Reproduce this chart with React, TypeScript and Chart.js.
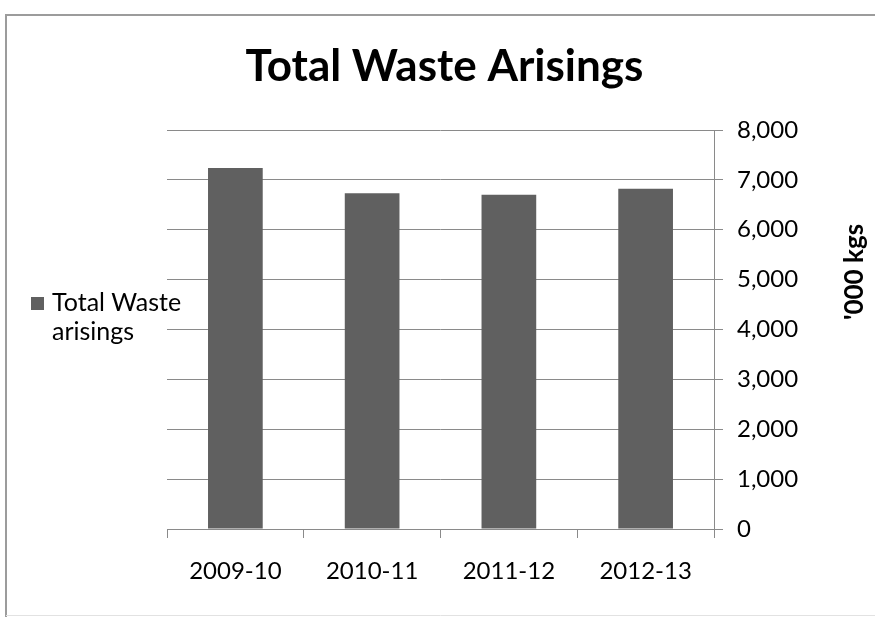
import React, { useEffect, useRef } from "react";
import { Chart, registerables } from "chart.js";

Chart.register(...registerables);

const TITLE = "Total Waste Arisings";
const Y_TITLE = "'000 kgs";
const CATEGORIES = ["2009-10", "2010-11", "2011-12", "2012-13"];
const SERIES_LABEL = "Total Waste arisings";
const SERIES_VALUES = [7240, 6730, 6700, 6820];
const Y_MIN = 0;
const Y_MAX = 8000;
const Y_STEP = 1000;

const FONT = "Lato, 'Liberation Sans', sans-serif";
const BAR_COLOR = "#606060";
const GRID_COLOR = "#8a8a8a";

const decorPlugin = {
  id: "decor",
  beforeDraw(chart: any) {
    const { ctx, width, height } = chart;
    ctx.save();
    ctx.fillStyle = "#ffffff";
    ctx.fillRect(0, 0, width, height);
    // outer frame
    ctx.strokeStyle = "#9c9c9c";
    ctx.lineWidth = 2;
    ctx.beginPath();
    ctx.moveTo(6, height);
    ctx.lineTo(6, 15);
    ctx.lineTo(width, 15);
    ctx.stroke();
    ctx.strokeStyle = "#e2e2e2";
    ctx.lineWidth = 1;
    ctx.beginPath();
    ctx.moveTo(6, 615.5);
    ctx.lineTo(width, 615.5);
    ctx.stroke();
    ctx.restore();
  },
  afterDraw(chart: any) {
    const { ctx, chartArea } = chart;
    ctx.save();
    // title
    ctx.fillStyle = "#000000";
    ctx.font = `bold 44px ${FONT}`;
    ctx.textAlign = "center";
    ctx.textBaseline = "alphabetic";
    ctx.fillText(TITLE, (chartArea.left + chartArea.right) / 2 + 4, 81);

    // legend (wrapped)
    const ds = chart.data.datasets[0];
    ctx.font = `25px ${FONT}`;
    ctx.textAlign = "left";
    const words = String(ds.label).split(" ");
    const lines: string[] = [];
    let cur = "";
    for (const w of words) {
      const t = cur ? cur + " " + w : w;
      if (cur && ctx.measureText(t).width > 150) {
        lines.push(cur);
        cur = w;
      } else cur = t;
    }
    if (cur) lines.push(cur);
    ctx.fillStyle = ds.backgroundColor;
    ctx.fillRect(31, 297, 13, 13);
    ctx.fillStyle = "#000000";
    lines.forEach((l, i) => ctx.fillText(l, 52, 311 + i * 29));

    // y-axis title (rotated)
    ctx.font = `bold 26px ${FONT}`;
    ctx.translate(855, 272);
    ctx.rotate(-Math.PI / 2);
    ctx.textAlign = "center";
    ctx.textBaseline = "middle";
    ctx.fillText(Y_TITLE, 0, 0);
    ctx.restore();
  },
};

export default function App() {
  const ref = useRef<HTMLCanvasElement | null>(null);
  useEffect(() => {
    if (!ref.current) return;
    const chart = new Chart(ref.current, {
      type: "bar",
      data: {
        labels: CATEGORIES,
        datasets: [
          {
            label: SERIES_LABEL,
            data: SERIES_VALUES,
            backgroundColor: BAR_COLOR,
            borderWidth: 0,
            barPercentage: 0.4,
            categoryPercentage: 1,
          },
        ],
      },
      options: {
        animation: false,
        responsive: false,
        maintainAspectRatio: false,
        layout: { padding: { left: 167, top: 130, right: 0, bottom: 0 } },
        plugins: {
          legend: { display: false },
          title: { display: false },
          tooltip: { enabled: false },
        },
        scales: {
          x: {
            offset: true,
            afterFit: (s: any) => {
              s.height = 88;
            },
            grid: {
              display: true,
              offset: true,
              drawOnChartArea: false,
              drawTicks: true,
              tickLength: 9,
              color: GRID_COLOR,
            },
            border: { display: true, color: GRID_COLOR, width: 1 },
            ticks: {
              color: "#000000",
              font: { family: FONT, size: 24 },
              padding: 19,
              maxRotation: 0,
            },
          },
          y: {
            position: "right",
            min: Y_MIN,
            max: Y_MAX,
            afterFit: (s: any) => {
              s.width = 161;
            },
            grid: {
              color: GRID_COLOR,
              drawTicks: true,
              tickLength: 9,
              lineWidth: 1,
            },
            border: { display: true, color: GRID_COLOR, width: 1 },
            ticks: {
              stepSize: Y_STEP,
              color: "#000000",
              font: { family: FONT, size: 24 },
              padding: 14,
              callback: (v: any) => Number(v).toLocaleString("en-US"),
            },
          },
        },
      },
      plugins: [decorPlugin],
    });
    return () => chart.destroy();
  }, []);
  return (
    <div style={{ position: "fixed", left: 0, top: 0, width: 875, height: 617 }}>
      <canvas ref={ref} width={875} height={617} style={{ display: "block" }} />
    </div>
  );
}
